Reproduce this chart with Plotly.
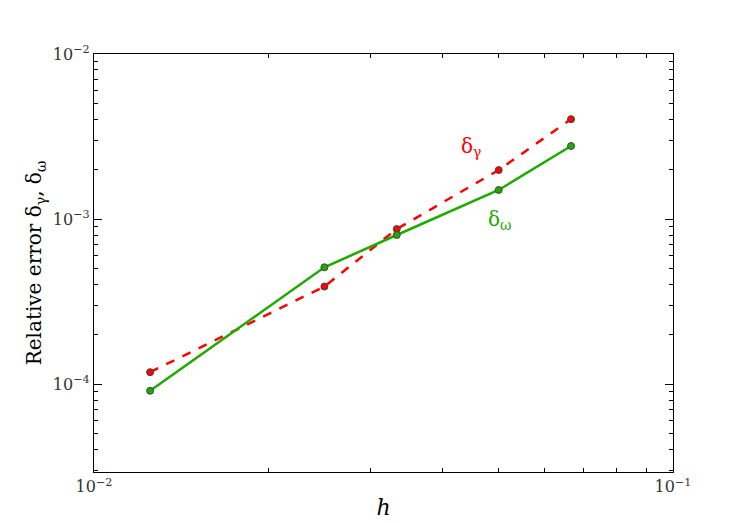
import plotly.graph_objects as go

# mesh size h and relative errors
h = [1 / 80, 1 / 40, 1 / 30, 1 / 20, 1 / 15]
delta_gamma = [1.18e-4, 3.9e-4, 8.7e-4, 1.98e-3, 4.03e-3]
delta_omega = [9.1e-5, 5.1e-4, 8.0e-4, 1.5e-3, 2.77e-3]

x_ticks = [1e-2, 1e-1]
x_ticktext = ["10<sup>−2</sup>", "10<sup>−1</sup>"]
y_ticks = [1e-4, 1e-3, 1e-2]
y_ticktext = ["10<sup>−4</sup>", "10<sup>−3</sup>", "10<sup>−2</sup>"]
x_minor = [k * 1e-2 for k in range(2, 10)]
y_minor = [k * d for d in (1e-5, 1e-4, 1e-3) for k in range(2, 10)]

red = "#ff0000"
green = "#1faa00"
font = "DejaVu Serif"

fig = go.Figure()
fig.add_trace(go.Scatter(
    x=h, y=delta_gamma, mode="lines+markers",
    line=dict(color=red, width=2.5, dash="dash"),
    marker=dict(color=red, size=7, line=dict(color="#444444", width=1)),
    showlegend=False,
))
fig.add_trace(go.Scatter(
    x=h, y=delta_omega, mode="lines+markers",
    line=dict(color=green, width=2.5),
    marker=dict(color=green, size=7, line=dict(color="#444444", width=1)),
    showlegend=False,
))

fig.add_annotation(x=-1.349, y=-2.564, xref="x", yref="y", text="δ<sub>γ</sub>",
                   showarrow=False, font=dict(color=red, size=20, family=font))
fig.add_annotation(x=-1.299, y=-3.006, xref="x", yref="y", text="δ<sub>ω</sub>",
                   showarrow=False, font=dict(color=green, size=20, family=font))

axis_common = dict(
    showline=True, linecolor="black", linewidth=1.2, mirror="allticks",
    ticks="inside", ticklen=8, tickcolor="black", showgrid=False, zeroline=False,
    tickfont=dict(size=16, family=font, color="#333333"), automargin=False,
)
minor_common = dict(
    showline=False, mirror="allticks", ticks="inside", ticklen=4, tickcolor="black",
    showgrid=False, zeroline=False, showticklabels=False, automargin=False,
)

# page body adds ~7px offset, so margins are shifted to compensate
fig.update_layout(
    width=747, height=523,
    margin=dict(l=86, r=82, t=46, b=59),
    plot_bgcolor="white", paper_bgcolor="white",
    xaxis=dict(type="log", range=[-2, -1], tickvals=x_ticks, ticktext=x_ticktext,
               title=dict(text="<i>h</i>", font=dict(size=22, family=font, color="black"), standoff=4),
               **axis_common),
    yaxis=dict(type="log", range=[-4.533, -2], tickvals=y_ticks, ticktext=y_ticktext,
               title=dict(text="Relative error δ<sub>γ</sub>, δ<sub>ω</sub>",
                          font=dict(size=20, family=font, color="black"), standoff=5),
               **axis_common),
    xaxis2=dict(type="log", range=[-2, -1], overlaying="x", side="bottom", anchor="y",
                tickvals=x_minor, **minor_common),
    yaxis2=dict(type="log", range=[-4.533, -2], overlaying="y", side="left", anchor="x",
                tickvals=y_minor, **minor_common),
)
# invisible trace to make the minor-tick axes draw
fig.add_trace(go.Scatter(x=[h[0]], y=[delta_gamma[0]], xaxis="x2", yaxis="y2",
                         mode="markers", marker=dict(opacity=0), hoverinfo="skip",
                         showlegend=False))

fig.write_html("out.html")
